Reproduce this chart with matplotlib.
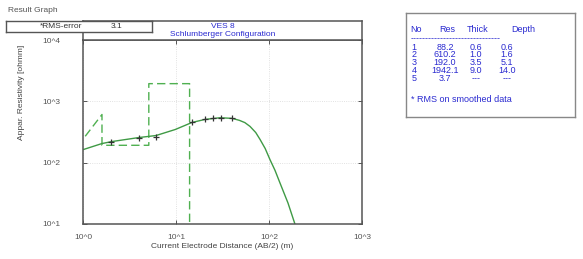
import matplotlib
matplotlib.use('Agg')
from matplotlib import pyplot as plt
from matplotlib.ticker import FixedLocator, FixedFormatter, NullLocator

# 测量数据 (AB/2, 视电阻率)
ab2_obs = [2.0, 4.0, 6.1, 14.9, 20.5, 25.0, 30.5, 40.0]
rho_obs = [221, 257, 267, 453, 507, 526, 526, 526]

# 模型响应曲线
ab2_fit = [1.0, 1.6, 2.05, 4.0, 6.1, 9.8, 14.9, 20.5, 29.7, 40, 48, 55, 62.5, 72, 80,
           91, 102.5, 116, 131, 160, 190]
rho_fit = [163, 205, 221, 257, 277, 347, 453, 507, 540, 528, 490, 450, 390, 310, 240,
           170, 112, 75, 47, 22, 10]

# 分层模型
layer_no = [1, 2, 3, 4, 5]
layer_res = [88.2, 610.2, 192.0, 1942.1, 3.7]
layer_thick = ['0.6', '1.0', '3.5', '9.0', '---']
layer_depth = [0.6, 1.6, 5.1, 14.0]

rms_error = 3.1

W, H = 583, 259
fig = plt.figure(figsize=(W / 100, H / 100), dpi=100)
plt.rcParams['font.family'] = ['Liberation Sans', 'DejaVu Sans']

blue = '#2a2ad0'
green = '#3f9a45'
frame = '#555555'


def fx(px):
    return px / W


def fy(py):
    return 1 - py / H


# 主图
ax = fig.add_axes([fx(83), fy(224), fx(362) - fx(83), fy(40) - fy(224)])
ax.set_xscale('log')
ax.set_yscale('log')
ax.set_xlim(1, 1000)
ax.set_ylim(10, 10000)

# 模型台阶线
sx = [layer_depth[0]]
sy = [layer_res[0]]
for i in range(1, len(layer_depth)):
    sx += [layer_depth[i], layer_depth[i]]
    sy += [layer_res[i], layer_res[i + 1]]
ax.plot(sx, sy, color='#4fb050', lw=1.0, ls=(0, (6, 3)), clip_on=True)

ax.plot(ab2_fit, rho_fit, color=green, lw=1.0)
ax.plot(ab2_obs, rho_obs, ls='none', marker='+', ms=4, mew=0.9, color='#333333')

xt = [1, 10, 100, 1000]
yt = [10, 100, 1000, 10000]
ax.xaxis.set_major_locator(FixedLocator(xt))
ax.xaxis.set_major_formatter(FixedFormatter(['10^0', '10^1', '10^2', '10^3']))
ax.yaxis.set_major_locator(FixedLocator(yt))
ax.yaxis.set_major_formatter(FixedFormatter(['10^1', '10^2', '10^3', '10^4']))
ax.xaxis.set_minor_locator(NullLocator())
ax.yaxis.set_minor_locator(NullLocator())
ax.tick_params(axis='x', direction='in', length=3, width=0.7, colors=frame,
               labelsize=6, pad=7, top=True)
ax.tick_params(axis='y', direction='in', length=3, width=0.7, colors=frame,
               labelsize=6, pad=16, right=True)
ax.grid(True, which='major', color='#d8d8d8', ls=':', lw=0.6)
for s in ax.spines.values():
    s.set_color(frame)
    s.set_linewidth(1.1)

fig.text(fx(222), fy(246), 'Current Electrode Distance (AB/2) (m)',
         ha='center', va='center', fontsize=6, color='#444444')
fig.text(fx(22), fy(92), 'Appar. Resistivity [ohmm]', rotation=90,
         ha='center', va='center', fontsize=6, color='#444444')

# 标题栏
hx = fig.add_axes([fx(83), fy(40), fx(362) - fx(83), fy(21) - fy(40)])
hx.set_xticks([])
hx.set_yticks([])
for s in hx.spines.values():
    s.set_color(frame)
    s.set_linewidth(1.1)
hx.text(0.5, 0.72, 'VES 8', ha='center', va='center', fontsize=6, color=blue)
hx.text(0.5, 0.3, 'Schlumberger Configuration', ha='center', va='center',
        fontsize=6, color=blue)

# RMS 框
rx = fig.add_axes([fx(6), fy(32), fx(152) - fx(6), fy(21) - fy(32)])
rx.set_xticks([])
rx.set_yticks([])
for s in rx.spines.values():
    s.set_color(frame)
    s.set_linewidth(1.0)
rx.text(0.38, 0.5, '*RMS-error', ha='center', va='center', fontsize=6, color='#333333')
rx.text(0.76, 0.5, str(rms_error), ha='center', va='center', fontsize=6, color='#333333')

fig.text(fx(8), fy(11), 'Result Graph', ha='left', va='center', fontsize=6, color='#555555')

# 右侧参数表
tx = fig.add_axes([fx(406), fy(117), fx(575) - fx(406), fy(13) - fy(117)])
tx.set_xticks([])
tx.set_yticks([])
for s in tx.spines.values():
    s.set_color('#888888')
    s.set_linewidth(1.0)

fs = 6.5
fig.text(fx(416), fy(29), 'No', ha='center', va='center', fontsize=fs, color=blue)
fig.text(fx(447), fy(29), 'Res', ha='center', va='center', fontsize=fs, color=blue)
fig.text(fx(478), fy(29), 'Thick', ha='center', va='center', fontsize=fs, color=blue)
fig.text(fx(523), fy(29), 'Depth', ha='center', va='center', fontsize=fs, color=blue)
fig.text(fx(411), fy(39), '-' * 30, ha='left', va='center', fontsize=fs, color=blue)
for i, n in enumerate(layer_no):
    y = 47 + i * 7.8
    fig.text(fx(414), fy(y), str(n), ha='center', va='center', fontsize=fs, color=blue)
    fig.text(fx(445), fy(y), '%.1f' % layer_res[i], ha='center', va='center',
             fontsize=fs, color=blue)
    fig.text(fx(476), fy(y), layer_thick[i], ha='center', va='center',
             fontsize=fs, color=blue)
    d = '%.1f' % layer_depth[i] if i < len(layer_depth) else '---'
    fig.text(fx(507), fy(y), d, ha='center', va='center', fontsize=fs, color=blue)
fig.text(fx(411), fy(99), '* RMS on smoothed data', ha='left', va='center',
         fontsize=fs, color=blue)

plt.savefig('out.png', dpi=100)
